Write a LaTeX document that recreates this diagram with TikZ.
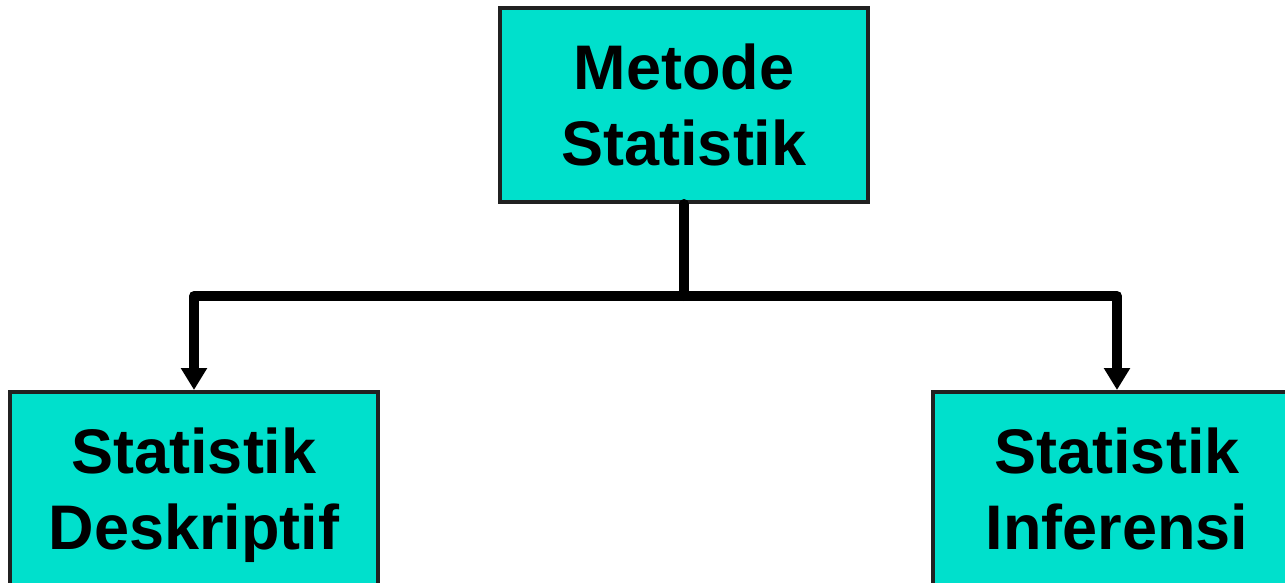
\documentclass[tikz,border=0pt]{standalone}
\usepackage{fontspec}
\setmainfont{Liberation Sans}
\usetikzlibrary{arrows.meta}
\definecolor{boxcyan}{RGB}{0,224,204}
\begin{document}
\begin{tikzpicture}[x=1pt, y=-1pt, every node/.style = {shape=rectangle, draw=black!87, line width=4pt, fill=boxcyan, align=center, minimum width=368pt, minimum height=194pt, inner sep=0pt, text depth=0pt, font=\fontsize{63}{76}\selectfont\bfseries}]
	\tikzset{ link/.style = {line width=10pt, line cap=round, line join=round} }
	\useasboundingbox (0,0) rectangle (1285,583);
	\node (metode) at (684,105) {Metode\\Statistik};
	\node (deskriptif) at (194,489) {Statistik\\Deskriptif};
	\node (inferensi) at (1117,489) {Statistik\\Inferensi};
	\coordinate (split) at (684,296);
	\draw [link] (metode.south) -- (split);
	\draw [link, -{Triangle[width=25pt,length=22pt]}] (split) -| (deskriptif.north);
	\draw [link, -{Triangle[width=25pt,length=22pt]}] (split) -| (inferensi.north);
\end{tikzpicture}
\end{document}
